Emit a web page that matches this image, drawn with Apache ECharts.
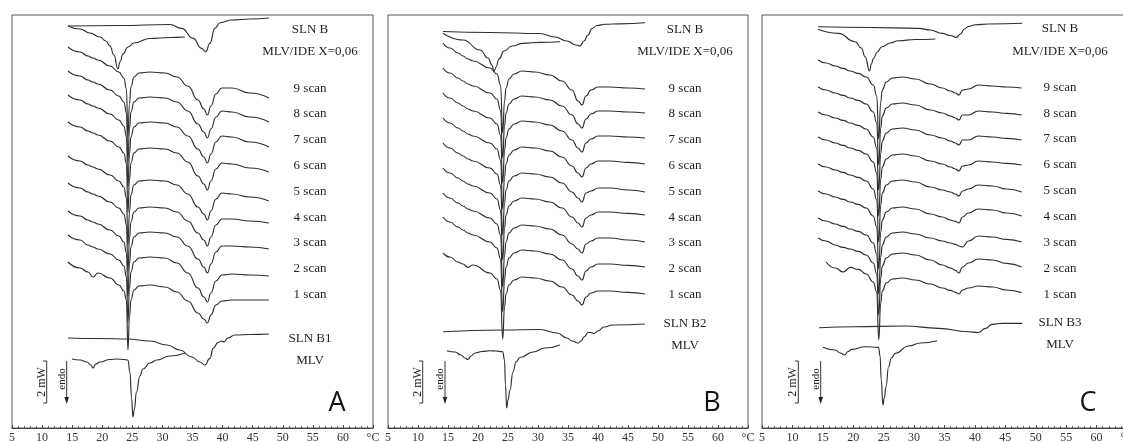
<!DOCTYPE html>
<html><head><meta charset="utf-8">
<script src="https://cdn.jsdelivr.net/npm/echarts@6/dist/echarts.min.js"></script>
<style>html,body{margin:0;padding:0;background:#fff}#c{width:1123px;height:442px}</style>
</head><body><div id="c"></div>
<script>
// ---------- Temperature grids (°C) shared by the scan curves of each panel ----------
const tScanA = [14.30,16.30,17.62,18.46,19.29,21.28,22.77,23.60,24.02,24.27,24.52,24.77,25.27,26.10,27.92,30.42,32.41,34.24,35.90,36.89,37.48,38.06,38.89,39.88,41.54,44.53,47.69];
const tScanB = [14.17,15.33,16.67,17.50,18.33,19.17,22.00,23.17,23.75,24.12,24.42,24.67,25.17,26.00,27.33,29.50,32.00,34.00,35.67,36.67,37.33,38.00,38.83,40.00,42.00,45.00,47.83];
const tScanC = [14.23,15.54,17.03,18.34,19.50,20.82,22.13,23.29,23.86,24.19,24.52,24.77,25.43,26.42,28.06,30.21,32.68,34.65,35.97,36.80,37.37,37.95,38.94,40.58,42.89,45.20,47.67];

// ---------- Heat flow (mW, stacked with offsets) : panel A ----------
const scanA9 = [19.05,18.8,18.6,18.5,18.4,18.1,17.8,17.5,16.95,14.55,16.2,17.05,17.55,17.75,17.8,17.75,17.55,17.1,16.4,15.95,15.65,16.1,16.7,17.0,17.0,16.75,16.5];
const scanA8 = [17.85,17.6,17.4,17.3,17.2,16.9,16.6,16.3,15.75,13.3,14.95,15.8,16.3,16.5,16.55,16.5,16.3,15.85,15.2,14.8,14.5,14.95,15.55,15.85,15.8,15.55,15.3];
const scanA7 = [16.65,16.4,16.2,16.1,16.0,15.7,15.4,15.1,14.55,12.05,13.7,14.55,15.05,15.25,15.3,15.25,15.05,14.6,13.95,13.55,13.25,13.7,14.3,14.6,14.55,14.3,14.05];
const scanA6 = [15.3,15.05,14.85,14.75,14.65,14.35,14.05,13.75,13.2,10.75,12.4,13.25,13.75,13.95,14.0,13.95,13.75,13.3,12.6,12.2,11.9,12.35,12.95,13.25,13.2,13.0,12.8];
const scanA5 = [13.6,13.35,13.15,13.05,12.95,12.65,12.35,12.05,11.5,9.15,10.8,11.65,12.15,12.35,12.4,12.35,12.15,11.7,11.05,10.7,10.4,10.85,11.45,11.75,11.7,11.55,11.35];
const scanA4 = [12.25,12.0,11.8,11.7,11.6,11.3,11.0,10.7,10.15,7.8,9.45,10.3,10.8,11.0,11.05,11.0,10.8,10.35,9.75,9.4,9.1,9.55,10.15,10.45,10.45,10.35,10.25];
const scanA3 = [10.85,10.6,10.4,10.3,10.2,9.9,9.6,9.3,8.75,6.55,8.2,9.05,9.55,9.75,9.8,9.75,9.55,9.1,8.45,8.05,7.75,8.2,8.8,9.1,9.1,9.05,8.95];
const scanA2 = [9.65,9.4,9.15,9.05,8.95,8.7,8.4,8.1,7.55,5.3,6.95,7.8,8.3,8.5,8.55,8.5,8.25,7.75,7.0,6.55,6.3,6.75,7.35,7.65,7.7,7.65,7.6];
const scanA1 = [8.3,8.0,7.8,7.55,7.75,7.5,7.15,6.85,6.4,3.9,5.55,6.4,6.9,7.1,7.15,7.05,6.8,6.35,5.75,5.45,5.25,5.65,6.15,6.35,6.4,6.4,6.4];
const slnB_A = [[14.30,20.1],[22.94,20.125],[31.25,20.175],[33.2,19.985],[35.1,19.485],[36.5,18.985],[37.2,18.815],[37.9,19.235],[38.7,19.985],[39.6,20.265],[41.54,20.4],[44.53,20.45],[47.69,20.5]];
const mlvIde_A = [[14.30,20.1],[16.30,19.95],[17.96,19.75],[19.62,19.55],[20.61,19.35],[21.28,19.1],[21.94,18.65],[22.61,17.95],[22.94,18.3],[23.44,18.7],[24.27,19.05],[25.27,19.25],[27.92,19.475],[31.25,19.525],[33.74,19.55]];
const slnB1_A = [[14.30,4.5],[19.62,4.475],[24.10,4.45],[27.92,4.35],[30.75,4.15],[32.91,3.9],[34.90,3.55],[36.23,3.3],[37.06,3.15],[37.89,3.485],[38.44,3.985],[39.27,4.285],[39.83,4.35],[40.22,4.3],[40.88,4.5],[42.04,4.65],[44.53,4.675],[47.69,4.7]];
const mlv_A = [[14.97,3.45],[16.30,3.4],[17.46,3.3],[18.12,3.15],[18.46,3.0],[18.95,3.2],[19.62,3.3],[21.28,3.425],[22.44,3.45],[23.60,3.425],[24.27,3.4],[24.60,2.8],[24.88,1.5],[25.10,0.55],[25.35,0.95],[25.68,1.8],[26.26,2.6],[26.76,2.95],[27.92,3.25],[29.09,3.4],[31.25,3.6],[33.74,3.75]];

// ---------- panel B ----------
const scanB9 = [19.25,19.0,18.75,18.6,18.45,18.35,18.0,17.7,17.15,14.75,16.35,17.0,17.45,17.7,17.85,17.8,17.65,17.35,16.9,16.35,16.15,16.6,16.9,17.05,17.05,17.0,16.95];
const scanB8 = [18.0,17.75,17.5,17.35,17.2,17.1,16.75,16.45,15.9,13.5,15.1,15.75,16.2,16.45,16.6,16.55,16.4,16.1,15.65,15.2,15.0,15.45,15.7,15.85,15.85,15.8,15.75];
const scanB7 = [16.75,16.5,16.25,16.1,15.95,15.85,15.5,15.2,14.65,12.25,13.85,14.5,14.95,15.2,15.35,15.3,15.15,14.85,14.4,14.0,13.8,14.25,14.45,14.6,14.6,14.55,14.5];
const scanB6 = [15.5,15.25,15.0,14.85,14.7,14.6,14.25,13.95,13.4,10.95,12.55,13.2,13.65,13.9,14.05,14.0,13.85,13.55,13.1,12.75,12.55,13.0,13.2,13.35,13.35,13.28,13.2];
const scanB5 = [14.25,14.0,13.75,13.6,13.45,13.35,13.0,12.7,12.15,9.65,11.25,11.9,12.35,12.6,12.75,12.7,12.55,12.25,11.8,11.5,11.3,11.75,11.85,12.0,12.0,11.9,11.8];
const scanB4 = [13.0,12.75,12.5,12.35,12.2,12.1,11.75,11.45,10.9,8.4,10.0,10.65,11.1,11.35,11.5,11.45,11.3,11.0,10.55,10.25,10.05,10.5,10.65,10.8,10.8,10.73,10.65];
const scanB3 = [11.75,11.5,11.25,11.1,10.95,10.85,10.5,10.2,9.65,7.05,8.65,9.3,9.75,10.0,10.15,10.1,9.95,9.65,9.2,8.95,8.75,9.2,9.35,9.5,9.5,9.4,9.3];
const scanB2 = [10.55,10.3,10.05,9.9,9.75,9.65,9.3,9.0,8.45,5.8,7.4,8.05,8.5,8.75,8.9,8.85,8.7,8.4,7.95,7.6,7.4,7.85,8.05,8.2,8.2,8.13,8.05];
const scanB1 = [8.75,8.55,8.3,8.2,8.03,8.15,7.75,7.45,6.9,4.45,6.05,6.7,7.15,7.4,7.55,7.5,7.35,7.05,6.65,6.35,6.15,6.55,6.75,6.85,6.85,6.78,6.7];
const slnB_B = [[14.17,19.825],[22.0,19.775],[30.33,19.725],[32.83,19.55],[34.83,19.35],[36.33,19.15],[37.0,19.1],[37.67,19.35],[38.33,19.65],[39.0,19.975],[39.83,20.125],[41.17,20.19],[43.67,20.21],[47.83,20.265]];
const mlvIde_B = [[14.17,19.735],[17.5,19.4],[20.33,18.9],[21.67,18.5],[22.33,18.15],[22.67,17.825],[23.0,18.05],[23.5,18.45],[24.33,18.85],[25.67,19.1],[27.5,19.235],[30.33,19.285],[33.67,19.315]];
const slnB2_B = [[14.17,4.815],[24.17,4.9],[30.33,4.925],[33.17,4.75],[34.83,4.5],[35.67,4.35],[36.67,4.25],[37.17,4.35],[37.67,4.55],[38.33,4.775],[38.83,4.775],[39.33,4.725],[40.0,4.85],[41.0,5.05],[42.5,5.15],[47.83,5.2]];
const mlv_B = [[14.83,3.865],[16.17,3.8],[17.17,3.65],[17.83,3.5],[18.33,3.425],[18.83,3.6],[19.5,3.75],[20.67,3.825],[22.0,3.865],[23.0,3.85],[24.12,3.815],[24.42,3.4],[24.58,2.15],[24.78,1.0],[25.0,1.4],[25.33,1.9],[25.83,2.8],[26.33,3.3],[27.0,3.525],[29.17,3.8],[31.17,4.0],[33.67,4.15]];

// ---------- panel C ----------
const scanC9 = [18.4,18.25,18.1,17.98,17.85,17.73,17.55,17.15,16.6,14.45,16.3,16.9,17.3,17.5,17.55,17.45,17.2,17.0,16.85,16.75,16.65,16.9,16.95,17.15,17.1,17.05,17.0];
const scanC8 = [17.05,16.9,16.75,16.63,16.5,16.38,16.2,15.8,15.25,13.15,15.0,15.6,16.0,16.2,16.25,16.15,15.9,15.75,15.6,15.5,15.4,15.65,15.65,15.85,15.8,15.73,15.65];
const scanC7 = [15.8,15.65,15.5,15.38,15.25,15.13,14.95,14.55,14.0,11.9,13.75,14.35,14.75,14.95,15.0,14.9,14.65,14.5,14.35,14.25,14.15,14.4,14.4,14.6,14.55,14.48,14.4];
const scanC6 = [14.55,14.4,14.25,14.13,14.0,13.88,13.7,13.3,12.75,10.6,12.45,13.05,13.45,13.65,13.7,13.6,13.35,13.2,13.05,12.95,12.85,13.1,13.15,13.35,13.3,13.23,13.15];
const scanC5 = [13.2,13.05,12.9,12.78,12.65,12.53,12.35,11.95,11.4,9.3,11.15,11.75,12.15,12.35,12.4,12.3,12.05,11.9,11.8,11.7,11.6,11.85,11.95,12.15,12.1,11.95,11.8];
const scanC4 = [11.85,11.7,11.55,11.43,11.3,11.18,11.0,10.6,10.05,7.95,9.8,10.4,10.8,11.0,11.05,10.95,10.7,10.55,10.4,10.33,10.25,10.55,10.75,10.95,10.9,10.75,10.6];
const scanC3 = [10.5,10.35,10.2,10.08,9.95,9.83,9.65,9.25,8.7,6.7,8.55,9.15,9.55,9.75,9.8,9.7,9.5,9.35,9.25,9.18,9.1,9.05,9.35,9.6,9.55,9.43,9.3];
const scanC2 = [9.5,9.35,9.15,9.03,8.95,8.83,8.65,8.25,7.7,5.65,7.5,8.1,8.5,8.7,8.75,8.65,8.4,8.15,8.0,7.88,7.75,8.05,8.25,8.45,8.4,8.23,8.05];
const scanC1 = [null,8.3,8.0,7.8,8.03,7.93,7.7,7.3,6.8,4.4,6.25,6.85,7.25,7.45,7.5,7.4,7.2,7.0,6.88,6.78,6.7,6.9,7.0,7.1,7.05,6.9,6.77];
const slnB_C = [[14.23,20.065],[22.79,20.025],[30.70,19.985],[32.68,19.9],[34.65,19.735],[35.97,19.625],[36.96,19.535],[37.62,19.7],[38.28,19.95],[38.94,20.075],[40.09,20.165],[42.23,20.2],[47.78,20.235]];
const mlvIde_C = [[14.23,19.935],[17.52,19.735],[20.32,19.315],[21.31,19.0],[21.97,18.565],[22.68,17.85],[22.96,18.2],[23.34,18.485],[23.95,18.8],[24.72,19.065],[26.09,19.25],[27.41,19.365],[30.21,19.425],[33.50,19.45]];
const slnB3_C = [[14.39,5.015],[20.32,5.065],[28.56,5.1],[33.99,4.985],[38.94,4.815],[40.58,4.775],[41.74,4.985],[42.84,5.185],[44.49,5.235],[47.78,5.235]];
const mlv_C = [[15.00,4.035],[17.03,3.9],[17.85,3.75],[18.56,3.65],[19.17,3.825],[19.78,3.935],[21.97,4.065],[24.16,4.035],[24.41,3.6],[24.60,2.4],[24.88,1.15],[25.10,1.5],[25.38,2.065],[25.81,3.065],[26.25,3.5],[26.91,3.735],[29.10,4.1],[31.03,4.25],[33.78,4.365]];

// ---------- texts ----------
const labelsA = ['SLN B','MLV/IDE X=0,06','9 scan','8 scan','7 scan','6 scan','5 scan','4 scan','3 scan','2 scan','1 scan','SLN B1','MLV'];
const labelsB = ['SLN B','MLV/IDE X=0,06','9 scan','8 scan','7 scan','6 scan','5 scan','4 scan','3 scan','2 scan','1 scan','SLN B2','MLV'];
const labelsC = ['SLN B','MLV/IDE X=0,06','9 scan','8 scan','7 scan','6 scan','5 scan','4 scan','3 scan','2 scan','1 scan','SLN B3','MLV'];
const panelLetters = ['A','B','C'];
const xTicks = [5,10,15,20,25,30,35,40,45,50,55,60,65];
const unitLabel = '°C';
const scaleText = '2 mW';
const endoText = 'endo';

// ---------- layout (pixels) ----------
const gridLeft = [12, 388, 762];
const gridWidth = [361, 360, 365];
const gridTop = 15, gridHeight = 413;
const labelX = [310, 685, 1060];
const labelRows = [
  [30,52,89,114,140,166,192,218,243,269,295,339,361],
  [30,52,89,114,140,166,192,218,243,269,295,324,346],
  [29,52,88,114,139,165,191,217,243,269,295,323,345]
];
const barX = [46.7, 422.7, 798.3];
const arrowX = [66.7, 445, 820.7];
const letterX = [337, 712, 1088];

function pairs(T, v){ return T.map((t,i)=> v[i]==null ? null : [t, v[i]]).filter(p=>p); }

const curves = [
  [0, slnB_A],[0, mlvIde_A],
  [0, pairs(tScanA, scanA9)],[0, pairs(tScanA, scanA8)],[0, pairs(tScanA, scanA7)],[0, pairs(tScanA, scanA6)],[0, pairs(tScanA, scanA5)],
  [0, pairs(tScanA, scanA4)],[0, pairs(tScanA, scanA3)],[0, pairs(tScanA, scanA2)],[0, pairs(tScanA, scanA1)],
  [0, slnB1_A],[0, mlv_A],
  [1, slnB_B],[1, mlvIde_B],
  [1, pairs(tScanB, scanB9)],[1, pairs(tScanB, scanB8)],[1, pairs(tScanB, scanB7)],[1, pairs(tScanB, scanB6)],[1, pairs(tScanB, scanB5)],
  [1, pairs(tScanB, scanB4)],[1, pairs(tScanB, scanB3)],[1, pairs(tScanB, scanB2)],[1, pairs(tScanB, scanB1)],
  [1, slnB2_B],[1, mlv_B],
  [2, slnB_C],[2, mlvIde_C],
  [2, pairs(tScanC, scanC9)],[2, pairs(tScanC, scanC8)],[2, pairs(tScanC, scanC7)],[2, pairs(tScanC, scanC6)],[2, pairs(tScanC, scanC5)],
  [2, pairs(tScanC, scanC4)],[2, pairs(tScanC, scanC3)],[2, pairs(tScanC, scanC2)],[2, pairs(tScanC, scanC1)],
  [2, slnB3_C],[2, mlv_C]
];

const serif = '"Liberation Serif", "Times New Roman", serif';
const grids = [0,1,2].map(i => ({
  left: gridLeft[i], top: gridTop, width: gridWidth[i], height: gridHeight,
  show: true, borderColor: '#555', borderWidth: 1, backgroundColor: 'transparent',
  containLabel: false, outerBoundsMode: 'none'
}));
const xAxes = [0,1,2].map(i => ({
  gridIndex: i, type: 'value', min: xTicks[0], max: xTicks[xTicks.length-1], interval: 5,
  axisLine: { show: true, onZero: false, lineStyle: { color: '#444', width: 1 } },
  axisTick: { show: true, inside: true, length: 3, lineStyle: { color: '#444' } },
  minorTick: { show: true, splitNumber: 5, length: 2, lineStyle: { color: '#666' } },
  splitLine: { show: false },
  axisLabel: { color: '#333', fontFamily: serif, fontSize: 12, margin: 4,
    formatter: v => v === xTicks[xTicks.length-1] ? unitLabel : String(v) }
}));
const yAxes = [0,1,2].map(i => ({ gridIndex: i, type: 'value', min: 0, max: 20.65, show: false }));

const series = curves.map(([p, d]) => ({
  type: 'line', xAxisIndex: p, yAxisIndex: p, data: d,
  showSymbol: false, symbol: 'none', smooth: 0.5, smoothMonotone: 'x',
  lineStyle: { color: '#2e2e2e', width: 1.15 }, silent: true, animation: false
}));

const graphic = [];
const allLabels = [labelsA, labelsB, labelsC];
for (let p = 0; p < 3; p++) {
  allLabels[p].forEach((txt, k) => {
    graphic.push({ type: 'text', x: labelX[p], y: labelRows[p][k], silent: true,
      style: { text: txt, font: '13px ' + serif, fill: '#1e1e1e', align: 'center', verticalAlign: 'middle' } });
  });
  const bx = barX[p];
  graphic.push({ type: 'line', silent: true, shape: { x1: bx, y1: 361, x2: bx, y2: 403 }, style: { stroke: '#333', lineWidth: 1 } });
  graphic.push({ type: 'line', silent: true, shape: { x1: bx-3.5, y1: 361, x2: bx, y2: 361 }, style: { stroke: '#333', lineWidth: 1 } });
  graphic.push({ type: 'line', silent: true, shape: { x1: bx-3.5, y1: 403, x2: bx, y2: 403 }, style: { stroke: '#333', lineWidth: 1 } });
  graphic.push({ type: 'text', x: bx - 5, y: 382, rotation: Math.PI/2, silent: true,
    style: { text: scaleText, font: '12px ' + serif, fill: '#222', align: 'center', verticalAlign: 'middle' } });
  const ax = arrowX[p];
  graphic.push({ type: 'line', silent: true, shape: { x1: ax, y1: 361, x2: ax, y2: 398 }, style: { stroke: '#333', lineWidth: 1 } });
  graphic.push({ type: 'polygon', silent: true, shape: { points: [[ax-2.3,397],[ax+2.3,397],[ax,404]] }, style: { fill: '#222' } });
  graphic.push({ type: 'text', x: ax - 5, y: 379, rotation: Math.PI/2, silent: true,
    style: { text: endoText, font: '11px ' + serif, fill: '#222', align: 'center', verticalAlign: 'middle' } });
  graphic.push({ type: 'text', x: letterX[p], y: 403, silent: true,
    style: { text: panelLetters[p], font: '27px "Open Sans", "Liberation Sans", sans-serif', fill: '#111', align: 'center', verticalAlign: 'middle' } });
}

const chart = echarts.init(document.getElementById('c'), null, { renderer: 'canvas' });
chart.setOption({
  backgroundColor: '#fff', animation: false,
  grid: grids, xAxis: xAxes, yAxis: yAxes, series: series, graphic: graphic
});
</script></body></html>
